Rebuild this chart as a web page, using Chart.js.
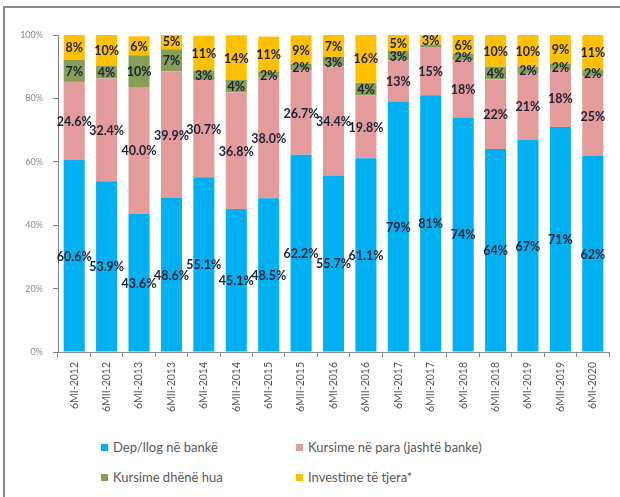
<!DOCTYPE html>
<html>
<head>
<meta charset="utf-8">
<script src="https://cdn.jsdelivr.net/npm/chart.js@4/dist/chart.umd.min.js"></script>
<style>
  html, body { margin: 0; padding: 0; background: #fff; }
  #frame {
    position: absolute; left: 3px; top: 6px; width: 617px; height: 491px;
    border-top: 2px solid #8a8a8a; border-left: 2px solid #8a8a8a;
  }
  #wrap { position: absolute; left: 0; top: 0; width: 620px; height: 430px; }
  #legend {
    position: absolute; left: 0; top: 437px; width: 620px;
    font: 13px Lato, "Open Sans", sans-serif; color: #595959;
  }
  .item { position: absolute; white-space: nowrap; display: flex; align-items: center; }
  .item i { display: inline-block; width: 7px; height: 7px; margin-right: 5px; }
</style>
</head>
<body>
<div id="frame"></div>
<div id="wrap"><canvas id="chart"></canvas></div>
<div id="legend"></div>

<script>
// ── DADOS ──

const periods = [
  '6MI-2012', '6MII-2012', '6MI-2013', '6MII-2013', '6MI-2014', '6MII-2014',
  '6MI-2015', '6MII-2015', '6MI-2016', '6MII-2016', '6MI-2017', '6MII-2017',
  '6MI-2018', '6MII-2018', '6MI-2019', '6MII-2019', '6MI-2020'
];
const depozita  = [60.6, 53.9, 43.6, 48.6, 55.1, 45.1, 48.5, 62.2, 55.7, 61.1, 79, 81, 74, 64, 67, 71, 62];
const neParaja  = [24.6, 32.4, 40.0, 39.9, 30.7, 36.8, 38.0, 26.7, 34.4, 19.8, 13, 15, 18, 22, 21, 18, 25];
const dheneHua  = [7, 4, 10, 7, 3, 4, 2, 2, 3, 4, 3, 1, 2, 4, 2, 2, 2];
const investime = [8, 10, 6, 5, 11, 14, 11, 9, 7, 16, 5, 3, 6, 10, 10, 9, 11];
// periudhat me nje shifer dhjetore ne etiketat e dy serive te para
const oneDecimal = [true, true, true, true, true, true, true, true, true, true,
                    false, false, false, false, false, false, false];
const yTicks = [0, 20, 40, 60, 80, 100];

const series = [
  { label: 'Dep/llog në bankë', data: depozita, color: '#00B0F0' },
  { label: 'Kursime në para (jashtë banke)', data: neParaja, color: '#E49B9B' },
  { label: 'Kursime dhënë hua', data: dheneHua, color: '#869E55' },
  { label: 'Investime të tjera*', data: investime, color: '#FFC000' },
];

const FONT = 'Lato, "Open Sans", sans-serif';

// ── ETIKETAT NE SEGMENTE ──

const segmentLabels = {
  id: 'segmentLabels',
  afterDatasetsDraw(chart) {
    const ctx = chart.ctx;
    ctx.save();
    ctx.font = 'bold 12.5px ' + FONT;
    ctx.fillStyle = '#1b2235';
    ctx.textAlign = 'center';
    ctx.textBaseline = 'middle';
    chart.data.datasets.forEach((ds, di) => {
      const meta = chart.getDatasetMeta(di);
      meta.data.forEach((bar, i) => {
        const v = ds.data[i];
        if (v == null || v < 2) return;
        const txt = (di < 2 && oneDecimal[i]) ? v.toFixed(1) + '%' : Math.round(v) + '%';
        const p = bar.getProps(['x', 'y', 'base'], true);
        ctx.fillText(txt, p.x, (p.y + p.base) / 2 + 1);
      });
    });
    ctx.restore();
  }
};

const chart = new Chart(document.getElementById('chart'), {
  type: 'bar',
  data: {
    labels: periods,
    datasets: series.map(s => ({
      label: s.label,
      data: s.data,
      backgroundColor: s.color,
      borderWidth: 0,
      barPercentage: 0.65,
      categoryPercentage: 1,
    }))
  },
  options: {
    responsive: true,
    maintainAspectRatio: false,
    animation: false,
    layout: { padding: { left: 0, right: 11, top: 35, bottom: 0 } },
    plugins: { legend: { display: false }, tooltip: { enabled: false } },
    scales: {
      x: {
        stacked: true,
        afterFit: s => { s.height = 78; },
        border: { color: '#8c8c8c' },
        grid: { drawOnChartArea: false, tickLength: 5, color: '#8c8c8c', offset: true },
        ticks: { minRotation: 90, maxRotation: 90, autoSkip: false, padding: 5,
                 color: '#595959', font: { family: FONT, size: 10.5 } }
      },
      y: {
        stacked: true,
        min: 0, max: 100,
        afterFit: s => { s.width = 58; },
        afterBuildTicks: s => { s.ticks = yTicks.map(v => ({ value: v })); },
        border: { color: '#7d7d95' },
        grid: { drawOnChartArea: false, tickLength: 5, color: '#7d7d95' },
        ticks: { padding: 10, color: '#8a8a8a', font: { family: FONT, size: 9 },
                 callback: v => v + '%' }
      }
    }
  },
  plugins: [segmentLabels]
});

// ── LEGJENDA ──

const legend = document.getElementById('legend');
const cols = [101, 296];
const rows = [2, 32];
chart.data.datasets.forEach((ds, i) => {
  const el = document.createElement('div');
  el.className = 'item';
  el.style.left = cols[i % 2] + 'px';
  el.style.top = rows[Math.floor(i / 2)] + 'px';
  el.innerHTML = `<i style="background:${ds.backgroundColor}"></i>${ds.label}`;
  legend.appendChild(el);
});
</script>
</body>
</html>
